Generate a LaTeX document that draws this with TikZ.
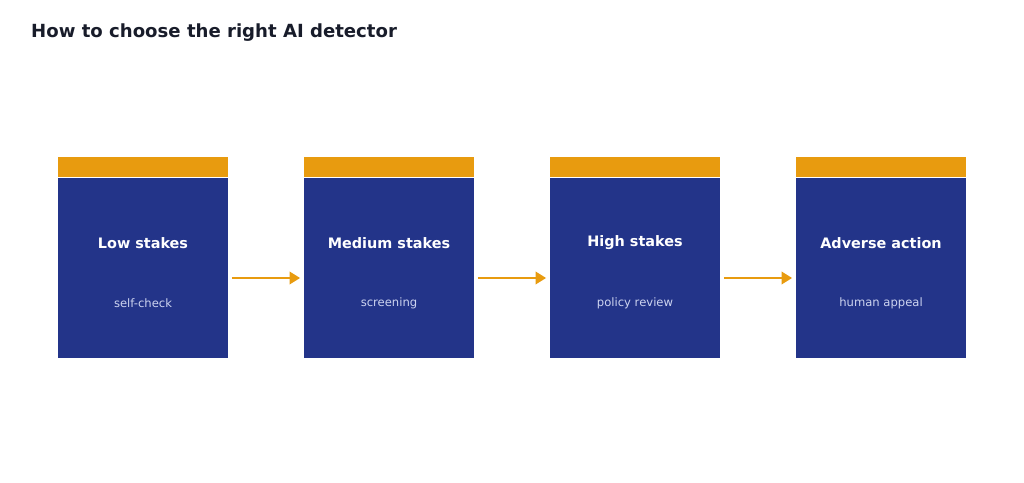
\documentclass[tikz,border=0pt]{standalone}
\usepackage{fontspec}
\setmainfont{DejaVu Sans}
\usetikzlibrary{positioning,arrows.meta}
\definecolor{stageblue}{RGB}{35,52,137}
\definecolor{stageorange}{RGB}{232,155,15}
\definecolor{titleink}{RGB}{24,28,42}
\definecolor{subink}{RGB}{205,212,240}

\begin{document}
\begin{tikzpicture}[x=0.02cm,y=-0.02cm,
    stage/.style={fill=stageblue, minimum width=3.4cm, minimum height=3.6cm, inner sep=0pt},
    topbar/.style={fill=stageorange, minimum width=3.4cm, minimum height=0.4cm, inner sep=0pt},
    flow/.style={-{Triangle[length=6pt,width=7pt]}, stageorange, line width=1.4pt}]
    % Page frame
    \useasboundingbox (0,0) rectangle (1024,483);
    \node[anchor=west, text=titleink, font=\fontsize{10.3}{12}\selectfont\bfseries] (title) at (25,33) {How to choose the right AI detector};

    % Stages
    \foreach \name/\xx/\head/\sub in {low/143/Low stakes/self-check,
        medium/389/Medium stakes/screening,
        high/635/High stakes/policy review,
        adverse/881/Adverse action/human appeal} {
        \node[stage] (\name) at (\xx,268) {};
        \node[topbar, above=0pt of \name] (\name-bar) {};
        \node[text=white, font=\fontsize{8.2}{10}\selectfont\bfseries] (\name-head) at (\xx,243) {\head};
        \node[text=subink, font=\fontsize{6.6}{8}\selectfont] (\name-sub) at (\xx,303) {\sub};
    }

    % Arrows between stages
    \foreach \from/\to in {low/medium, medium/high, high/adverse}
        \draw[flow] ([xshift=2pt,yshift=-0.2cm]\from.east) -- ([xshift=-2pt,yshift=-0.2cm]\to.west);
\end{tikzpicture}
\end{document}
